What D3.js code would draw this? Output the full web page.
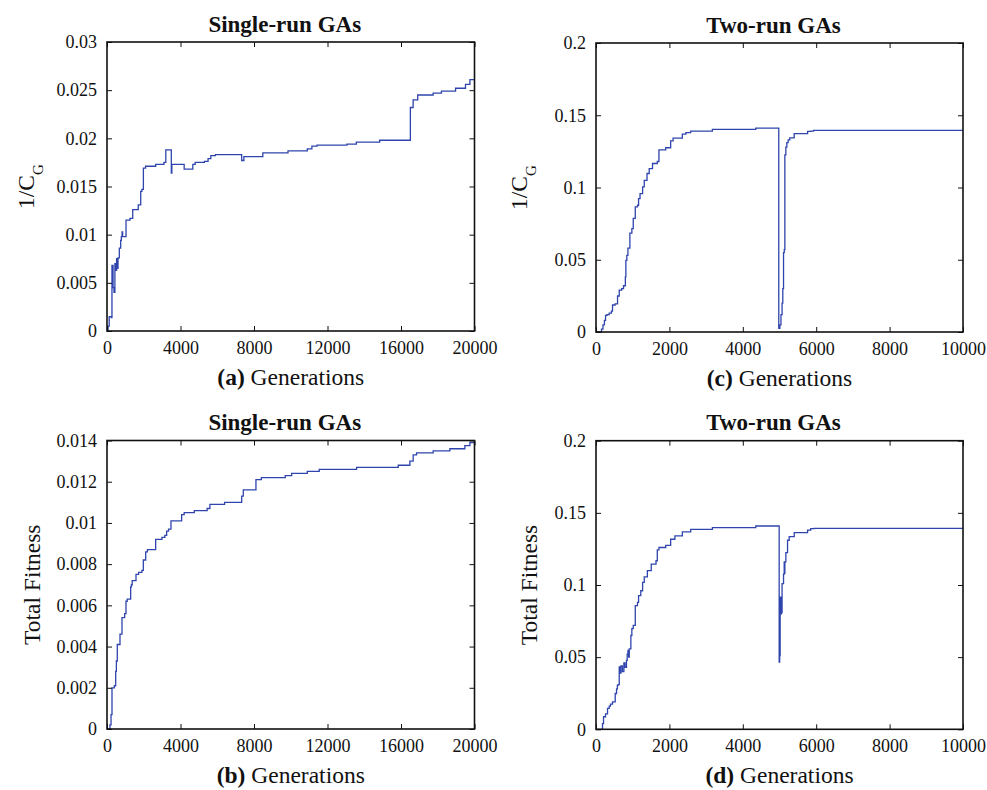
<!DOCTYPE html>
<html>
<head>
<meta charset="utf-8">
<script src="https://cdn.jsdelivr.net/npm/d3@7"></script>
<style>
  body { margin: 0; background: #fff; }
  svg { display: block; }
  text, tspan { font-family: "Liberation Serif", "Times New Roman", serif; fill: #111; }
</style>
</head>
<body>
<div id="myPlot"></div>
<script>
// Data: [generation, value] change points
const singleRunCG = [
  [0, 0], [60, 0.0005], [120, 0.0015], [230, 0.0014], [270, 0.0068], [330, 0.0045],
  [380, 0.0040], [430, 0.0070], [470, 0.0063], [520, 0.0075], [570, 0.0065], [600, 0.0076],
  [670, 0.0086], [745, 0.0094], [780, 0.0098], [820, 0.0103], [850, 0.0098], [1035, 0.0115],
  [1250, 0.0117], [1400, 0.0126], [1700, 0.0131], [1835, 0.0145], [1900, 0.0147], [1980, 0.0169],
  [2100, 0.0171], [2650, 0.0173], [3100, 0.0175], [3200, 0.0188], [3500, 0.0164], [3530, 0.0173],
  [4200, 0.0168], [4670, 0.0173], [4800, 0.0175], [5300, 0.0176], [5500, 0.0179], [5650, 0.0182],
  [5900, 0.0183], [7330, 0.0177], [7450, 0.0181], [8480, 0.0185], [9850, 0.0187], [10900, 0.0189],
  [11150, 0.0192], [11430, 0.0193], [13060, 0.0194], [13570, 0.0196], [14840, 0.0198], [16510, 0.0232],
  [16660, 0.0240], [16910, 0.0245], [17750, 0.0247], [18200, 0.0249], [18970, 0.0252], [19510, 0.0256],
  [19750, 0.0261], [20000, 0.0261]
];

const singleRunFit = [
  [0, 0], [160, 0.0002], [220, 0.0007], [272, 0.0020], [400, 0.0021], [473, 0.0028],
  [510, 0.0033], [560, 0.0041], [707, 0.0046], [816, 0.0054], [960, 0.0056], [1034, 0.0062],
  [1100, 0.0063], [1288, 0.0069], [1330, 0.0070], [1370, 0.0072], [1578, 0.0075], [1720, 0.0076],
  [1900, 0.0077], [1976, 0.0082], [2105, 0.0086], [2200, 0.0087], [2648, 0.0092], [2990, 0.0093],
  [3150, 0.0094], [3246, 0.0096], [3350, 0.0097], [3482, 0.0101], [4063, 0.0104], [4200, 0.0105],
  [4750, 0.0106], [5450, 0.0107], [5600, 0.0109], [6400, 0.0110], [7330, 0.0113], [7417, 0.0116],
  [8106, 0.0121], [8400, 0.0122], [9700, 0.0123], [10050, 0.0124], [10900, 0.0125], [11550, 0.0126],
  [13583, 0.0127], [15850, 0.0128], [16483, 0.0130], [16663, 0.0133], [16847, 0.0134], [17750, 0.0135],
  [18660, 0.0136], [19475, 0.01375], [19750, 0.0139], [20000, 0.0138]
];

const twoRunCG = [
  [0, 0], [130, 0], [150, 0.002], [190, 0.005], [230, 0.008], [260, 0.0115], [300, 0.012],
  [360, 0.013], [420, 0.0145], [450, 0.0187], [520, 0.0195], [587, 0.0249], [633, 0.029],
  [700, 0.030], [750, 0.032], [800, 0.0381], [814, 0.0496], [840, 0.053], [870, 0.058],
  [923, 0.0684], [977, 0.0716], [1015, 0.0786], [1070, 0.0866], [1130, 0.0877], [1160, 0.0923],
  [1200, 0.0958], [1270, 0.1004], [1315, 0.105], [1390, 0.1097], [1450, 0.113], [1540, 0.1166],
  [1670, 0.118], [1715, 0.126], [1900, 0.1275], [2034, 0.1323], [2100, 0.1342], [2353, 0.1369],
  [2450, 0.138], [2580, 0.139], [3172, 0.1402], [4354, 0.1411], [4980, 0.0025], [5010, 0.005],
  [5040, 0.012], [5070, 0.020], [5090, 0.030], [5110, 0.055], [5130, 0.057], [5146, 0.1226],
  [5173, 0.128], [5200, 0.131], [5236, 0.133], [5280, 0.1343], [5400, 0.1373], [5766, 0.1388],
  [5850, 0.139], [5930, 0.1395], [10000, 0.1395]
];

const twoRunFit = [
  [0, 0], [130, 0], [177, 0.004], [205, 0.0087], [260, 0.0107], [314, 0.0145], [360, 0.016],
  [395, 0.0175], [450, 0.019], [524, 0.0248], [560, 0.028], [583, 0.0306], [610, 0.031],
  [633, 0.0432], [650, 0.039], [680, 0.044], [720, 0.040], [760, 0.046], [790, 0.043],
  [830, 0.0478], [850, 0.052], [870, 0.0547], [890, 0.050], [906, 0.0557], [950, 0.065],
  [977, 0.0697], [1015, 0.072], [1070, 0.0857], [1130, 0.088], [1160, 0.0926], [1220, 0.096],
  [1270, 0.1018], [1315, 0.1057], [1400, 0.11], [1505, 0.1145], [1635, 0.1168], [1670, 0.1243],
  [1715, 0.126], [1900, 0.1275], [2034, 0.1317], [2150, 0.134], [2353, 0.1368], [2580, 0.1386],
  [3172, 0.1397], [4354, 0.1409], [4991, 0.0466], [5005, 0.057], [5012, 0.051], [5018, 0.0915],
  [5037, 0.080], [5055, 0.081], [5070, 0.101], [5110, 0.1076], [5128, 0.116], [5137, 0.108],
  [5146, 0.116], [5173, 0.1225], [5219, 0.131], [5264, 0.1335], [5401, 0.1363], [5765, 0.138],
  [5850, 0.139], [5947, 0.1393], [10000, 0.1393]
];

// Tick values (also used as tick labels)
const xTicksSingle = [0, 4000, 8000, 12000, 16000, 20000];
const xTicksTwo = [0, 2000, 4000, 6000, 8000, 10000];
const yTicksSingleCG = [0, 0.005, 0.01, 0.015, 0.02, 0.025, 0.03];
const yTicksSingleFit = [0, 0.002, 0.004, 0.006, 0.008, 0.01, 0.012, 0.014];
const yTicksTwo = [0, 0.05, 0.1, 0.15, 0.2];

const titles = ["Single-run GAs", "Two-run GAs"];
const panelLetters = ["(a)", "(b)", "(c)", "(d)"];

const serif = "Liberation Serif, Times New Roman, serif";

// Panel layout
const panels = [
  { data: singleRunCG, xTicks: xTicksSingle, yTicks: yTicksSingleCG, title: titles[0], letter: panelLetters[0],
    yLabel: "cg", box: [107, 42, 474.5, 331], yLabelX: -73.5 },
  { data: singleRunFit, xTicks: xTicksSingle, yTicks: yTicksSingleFit, title: titles[0], letter: panelLetters[1],
    yLabel: "Total Fitness", box: [107, 440.5, 474.5, 729], yLabelX: -67.5 },
  { data: twoRunCG, xTicks: xTicksTwo, yTicks: yTicksTwo, title: titles[1], letter: panelLetters[2],
    yLabel: "cg", box: [596, 43, 963, 332], yLabelX: -69 },
  { data: twoRunFit, xTicks: xTicksTwo, yTicks: yTicksTwo, title: titles[1], letter: panelLetters[3],
    yLabel: "Total Fitness", box: [596, 440.7, 963, 729.3], yLabelX: -59.5 }
];

const svg = d3.select("#myPlot")
  .append("svg")
  .attr("width", 987)
  .attr("height", 790)
  .attr("font-family", serif);

function drawPanel(p) {
  const [x0, y0, x1, y1] = p.box;
  const xs = d3.scaleLinear()
    .domain([0, p.xTicks[p.xTicks.length - 1]])
    .range([x0, x1]);
  const ys = d3.scaleLinear()
    .domain([0, p.yTicks[p.yTicks.length - 1]])
    .range([y1, y0]);

  const g = svg.append("g");

  // Series
  const line = d3.line()
    .x(d => xs(d[0]))
    .y(d => ys(d[1]))
    .curve(d3.curveStepAfter);
  g.append("path")
    .datum(p.data)
    .attr("d", line)
    .attr("fill", "none")
    .attr("stroke", "#2f45ad")
    .attr("stroke-width", 1.3);

  // Axes with inward ticks (all four sides)
  const fmt = d => String(d);
  const bottom = g.append("g")
    .attr("transform", "translate(0," + y1 + ")")
    .call(d3.axisBottom(xs).tickValues(p.xTicks).tickFormat(fmt).tickSize(-5).tickPadding(10));
  const left = g.append("g")
    .attr("transform", "translate(" + x0 + ",0)")
    .call(d3.axisLeft(ys).tickValues(p.yTicks).tickFormat(fmt).tickSize(-5).tickPadding(10));
  const top = g.append("g")
    .attr("transform", "translate(0," + y0 + ")")
    .call(d3.axisTop(xs).tickValues(p.xTicks).tickFormat("").tickSize(-5));
  const right = g.append("g")
    .attr("transform", "translate(" + x1 + ",0)")
    .call(d3.axisRight(ys).tickValues(p.yTicks).tickFormat("").tickSize(-5));

  [bottom, left, top, right].forEach(a => {
    a.attr("font-family", serif).attr("font-size", 18);
    a.select(".domain").remove();
    a.selectAll(".tick line").attr("stroke", "#111").attr("stroke-width", 1);
    a.selectAll("text").attr("fill", "#111");
  });

  // Frame
  g.append("rect")
    .attr("x", x0).attr("y", y0)
    .attr("width", x1 - x0).attr("height", y1 - y0)
    .attr("fill", "none")
    .attr("stroke", "#111")
    .attr("stroke-width", 1.6);

  const cx = (x0 + x1) / 2;
  const cy = (y0 + y1) / 2;

  // Title
  g.append("text")
    .attr("x", cx - 6)
    .attr("y", y0 - 10.5)
    .attr("text-anchor", "middle")
    .attr("font-size", 23)
    .attr("font-weight", "bold")
    .text(p.title);

  // X label
  const xl = g.append("text")
    .attr("x", cx)
    .attr("y", y1 + 54)
    .attr("text-anchor", "middle")
    .attr("font-size", 23.5);
  xl.append("tspan").attr("font-weight", "bold").text(p.letter);
  xl.append("tspan").text(" Generations");

  // Y label
  const yl = g.append("text")
    .attr("transform", "translate(" + (x0 + p.yLabelX) + "," + cy + ") rotate(-90)")
    .attr("text-anchor", "middle")
    .attr("font-size", 23.5);
  if (p.yLabel == "cg") {
    yl.append("tspan").text("1/C");
    yl.append("tspan").attr("dy", 9).attr("font-size", 15).text("G");
  } else {
    yl.text(p.yLabel);
  }
}

panels.forEach(drawPanel);
</script>
</body>
</html>
